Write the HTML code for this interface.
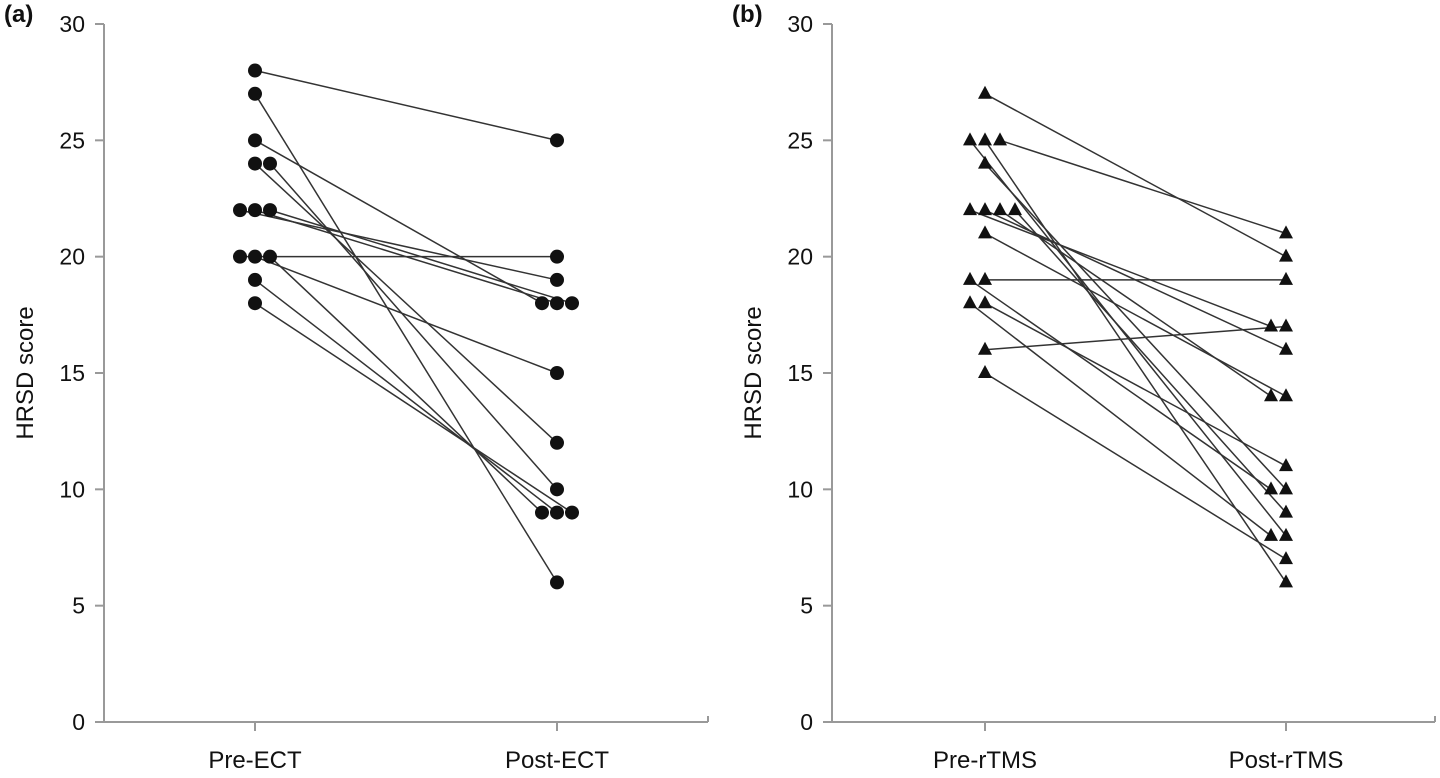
<!DOCTYPE html>
<html><head><meta charset="utf-8"><style>
body{margin:0;background:#fff;}
svg text{font-family:"Liberation Sans",sans-serif;fill:#111;}
</style></head><body>
<svg id="chart" width="1440" height="773" xmlns="http://www.w3.org/2000/svg"></svg>
<script>
const yTicks=[0,5,10,15,20,25,30];
const ectPre=[28,27,25,24,24,22,22,22,20,20,20,19,18];
const ectPost=[25,6,18,12,10,19,18,18,20,15,9,9,9];
const ectPreOff=[0,0,0,0,1,-1,0,1,-1,0,1,0,0];
const ectPostOff=[0,0,-1,0,0,0,0,1,0,0,-1,0,1];
const tmsPre=[27,25,25,25,24,22,22,22,22,21,19,19,18,18,16,15];
const tmsPost=[20,21,8,6,10,17,16,14,9,14,19,10,11,8,17,7];
const tmsPreOff=[0,1,-1,0,0,-1,0,1,2,0,0,-1,0,-1,0,0];
const tmsPostOff=[0,0,0,0,0,-1,0,-1,0,0,0,-1,0,-1,0,0];
const panels=[
 {id:'a',ax:104,pre:255,post:557,end:708,cats:['Pre-ECT','Post-ECT'],a:ectPre,b:ectPost,ao:ectPreOff,bo:ectPostOff,shape:'circle'},
 {id:'b',ax:832,pre:985,post:1286,end:1435,cats:['Pre-rTMS','Post-rTMS'],a:tmsPre,b:tmsPost,ao:tmsPreOff,bo:tmsPostOff,shape:'tri'}
];
const NS='http://www.w3.org/2000/svg';
const svg=document.getElementById('chart');
function y(v){return 722-v*(722-24)/30;}
function mk(tag,at,parent){const e=document.createElementNS(NS,tag);for(const k in at)e.setAttribute(k,at[k]);(parent||svg).appendChild(e);return e;}
panels.forEach(p=>{
 const g=mk('g',{});
 
 
 const lab=mk('text',{x:p.ax-100,y:22,'font-size':24,'font-weight':'bold','font-family':'Liberation Serif'},g);
 lab.textContent='('+p.id+')';
 
 
 const ya=mk('line',{x1:p.ax,y1:y(30),x2:p.ax,y2:y(0),stroke:'#999','stroke-width':2},g);
 
 
 const xa=mk('line',{x1:p.ax-9,y1:y(0),x2:p.end,y2:y(0),stroke:'#999','stroke-width':2},g);
 
 
 mk('line',{x1:p.end,y1:y(0),x2:p.end,y2:y(0)-6,stroke:'#999','stroke-width':2},g);
 yTicks.forEach(t=>{
  mk('line',{x1:p.ax-9,y1:y(t),x2:p.ax,y2:y(t),stroke:'#999','stroke-width':2},g);
  const tx=mk('text',{x:p.ax-19,y:y(t)+8,'font-size':23,'text-anchor':'end'},g);
  tx.textContent=t;
  
  
 });
 [p.pre,p.post].forEach((cx,i)=>{
  mk('line',{x1:cx,y1:y(0),x2:cx,y2:y(0)+9,stroke:'#999','stroke-width':2},g);
  const tx=mk('text',{x:cx,y:768,'font-size':24,'text-anchor':'middle'},g);
  tx.textContent=p.cats[i];
  
  
 });
 const tt=mk('text',{x:0,y:0,'font-size':24,'text-anchor':'middle',transform:`translate(${p.ax-71},${y(15)}) rotate(-90)`},g);
 tt.textContent='HRSD score';
 
 
 const S=15;
 p.a.forEach((v,i)=>{
  const x1=p.pre+p.ao[i]*S,x2=p.post+p.bo[i]*S;
  const ln=mk('line',{x1:x1,y1:y(v),x2:x2,y2:y(p.b[i]),stroke:'#333','stroke-width':1.5},g);
  
  
 });
 function marker(cx,v){
  let m;
  if(p.shape==='circle') m=mk('circle',{cx:cx,cy:y(v),r:7,fill:'#111'},g);
  else {const cy=y(v);m=mk('polygon',{points:`${cx},${cy-8} ${cx-7},${cy+5} ${cx+7},${cy+5}`,fill:'#111'},g);}
  
  
 }
 p.a.forEach((v,i)=>{marker(p.pre+p.ao[i]*S,v);marker(p.post+p.bo[i]*S,p.b[i]);});
});
</script>
</body></html>
